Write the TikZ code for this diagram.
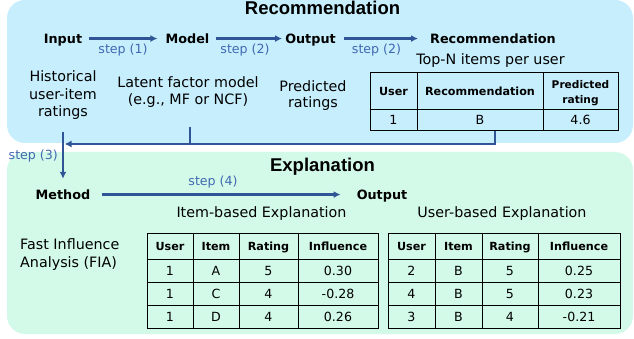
\documentclass[tikz,border=0pt]{standalone}
\usepackage{fontspec}
\setmainfont{DejaVu Sans}
\newfontfamily\titlefont{Liberation Sans}
\usetikzlibrary{arrows.meta}
\definecolor{bluebg}{HTML}{C6EEFC}
\definecolor{greenbg}{HTML}{D3FAE8}
\definecolor{arrowc}{HTML}{2F5597}
\definecolor{stepc}{HTML}{4068B2}
\tikzset{
  panel/.style={rounded corners=18pt},
  title/.style={font=\titlefont\bfseries\fontsize{18.5}{20}\selectfont, anchor=base, inner sep=0pt},
  lbl/.style={font=\bfseries\fontsize{12.8}{15}\selectfont, anchor=base, inner sep=0pt, text height=9.5pt, text depth=0pt},
  txt/.style={font=\fontsize{14.3}{17.5}\selectfont, align=center, inner sep=0pt},
  plain/.style={font=\fontsize{14.3}{17.5}\selectfont, anchor=base, inner sep=0pt},
  steplbl/.style={font=\fontsize{12.6}{15}\selectfont, text=stepc, anchor=base, inner sep=0pt},
  flow/.style={draw=arrowc, line width=2.4pt, -{Latex[length=7pt,width=7pt]}},
  link/.style={draw=arrowc, line width=2.4pt},
  cell/.style={font=\fontsize{12.6}{15}\selectfont, text height=9pt, text depth=0pt, inner sep=0pt},
  head/.style={font=\bfseries\fontsize{11.2}{14}\selectfont, text height=8pt, text depth=0pt, inner sep=0pt},
  headml/.style={font=\bfseries\fontsize{10.6}{15}\selectfont, align=center, inner sep=0pt},
  grid/.style={draw=black, line width=1pt},
}
\begin{document}
\begin{tikzpicture}[x=1pt,y=-1pt]
\useasboundingbox (0,0) rectangle (634,339);
% panels
\fill[bluebg, panel] (7,0) rectangle (633,143);
\fill[greenbg, panel] (7,152) rectangle (633,334);
% titles
\node[title] (rectitle) at (322.5,15) {Recommendation};
\node[title] (exptitle) at (322.5,172) {Explanation};
% recommendation flow labels
\node[lbl] (input) at (63,43.3) {Input};
\node[lbl] (model) at (187.5,43.3) {Model};
\node[lbl] (output) at (310.5,43.3) {Output};
\node[lbl] (recom) at (493,43.3) {Recommendation};
\draw[flow, shorten <=7pt, shorten >=8pt] (input.east) -- (model.west);
\draw[flow, shorten <=6pt, shorten >=3pt] (model.east) -- (output.west);
\draw[flow, shorten <=8pt, shorten >=12pt] (output.east) -- (recom.west);
\node[steplbl] (s1) at (123,53.3) {step (1)};
\node[steplbl] (s2) at (245,53.3) {step (2)};
\node[steplbl] (s2b) at (376.5,53.3) {step (2)};
% descriptions
\node[txt] (hist) at (63,95.4) {Historical\\user-item\\ratings};
\node[txt] (latent) at (188,92.1) {Latent factor model\\(e.g., MF or NCF)};
\node[txt, font=\fontsize{14.3}{16}\selectfont] (pred) at (313,95.6) {Predicted\\ratings};
\node[plain] (topn) at (490.5,65) {Top-N items per user};
% table 1
\draw[grid] (370,73) rectangle (618,131);
\foreach \x in {417,543} \draw[grid] (\x,73) -- (\x,131);
\draw[grid] (370,110) -- (618,110);
\node[head] (t1h1) at (393.5,91.5) {User};
\node[head] (t1h2) at (480,91.5) {Recommendation};
\node[headml] (t1h3) at (580.5,93) {Predicted\\rating};
\node[cell] (t1c1) at (393.5,120.5) {1};
\node[cell] (t1c2) at (480,120.5) {B};
\node[cell] (t1c3) at (580.5,120.5) {4.6};
% feedback connectors
\coordinate (t1b) at (495,131);
\coordinate (fbend) at (64.5,144);
\coordinate (lat) at (190,127);
\coordinate (latj) at (190,144);
\coordinate (inpb) at (63,132);
\draw[link] (lat) -- (latj);
\draw[flow] (t1b) |- (fbend);
% explanation
\node[lbl] (method) at (63,199.3) {Method};
\node[lbl] (output2) at (382,199.3) {Output};
\draw[flow, shorten >=10.8pt] (inpb) -- (method.north);
\node[steplbl, anchor=base east] (s3) at (58,160) {step (3)};
\draw[flow, shorten <=11pt, shorten >=16pt] (method.east) -- (output2.west);
\node[steplbl] (s4) at (213,185.5) {step (4)};
\node[plain] (itemexp) at (261.5,217.5) {Item-based Explanation};
\node[plain] (userexp) at (502,217.5) {User-based Explanation};
\node[txt, align=left, anchor=west, font=\fontsize{14.3}{18}\selectfont] (fia) at (20,255) {Fast Influence\\Analysis (FIA)};
% table 2
\draw[grid] (147,233) rectangle (378,328);
\foreach \x in {193,239,298} \draw[grid] (\x,233) -- (\x,328);
\foreach \y in {259,282,305} \draw[grid] (147,\y) -- (378,\y);
\node[head] (t2h1) at (170,246) {User};
\node[head] (t2h2) at (216,246) {Item};
\node[head] (t2h3) at (268.5,246) {Rating};
\node[head] (t2h4) at (338,246) {Influence};
\foreach \y/\a/\b/\c/\d [count=\i] in {271/1/A/5/0.30, 294/1/C/4/-0.28, 316.5/1/D/4/0.26} {
  \node[cell] (t2r\i c1) at (170,\y) {\a};
  \node[cell] (t2r\i c2) at (216,\y) {\b};
  \node[cell] (t2r\i c3) at (268.5,\y) {\c};
  \node[cell] (t2r\i c4) at (338,\y) {\d};
}
% table 3
\draw[grid] (388,233) rectangle (620,328);
\foreach \x in {435,482,538} \draw[grid] (\x,233) -- (\x,328);
\foreach \y in {259,282,305} \draw[grid] (388,\y) -- (620,\y);
\node[head] (t3h1) at (411.5,246) {User};
\node[head] (t3h2) at (458.5,246) {Item};
\node[head] (t3h3) at (510,246) {Rating};
\node[head] (t3h4) at (579,246) {Influence};
\foreach \y/\a/\b/\c/\d [count=\i] in {271/2/B/5/0.25, 294/4/B/5/0.23, 316.5/3/B/4/-0.21} {
  \node[cell] (t3r\i c1) at (411.5,\y) {\a};
  \node[cell] (t3r\i c2) at (458.5,\y) {\b};
  \node[cell] (t3r\i c3) at (510,\y) {\c};
  \node[cell] (t3r\i c4) at (579,\y) {\d};
}
\end{tikzpicture}
\end{document}
